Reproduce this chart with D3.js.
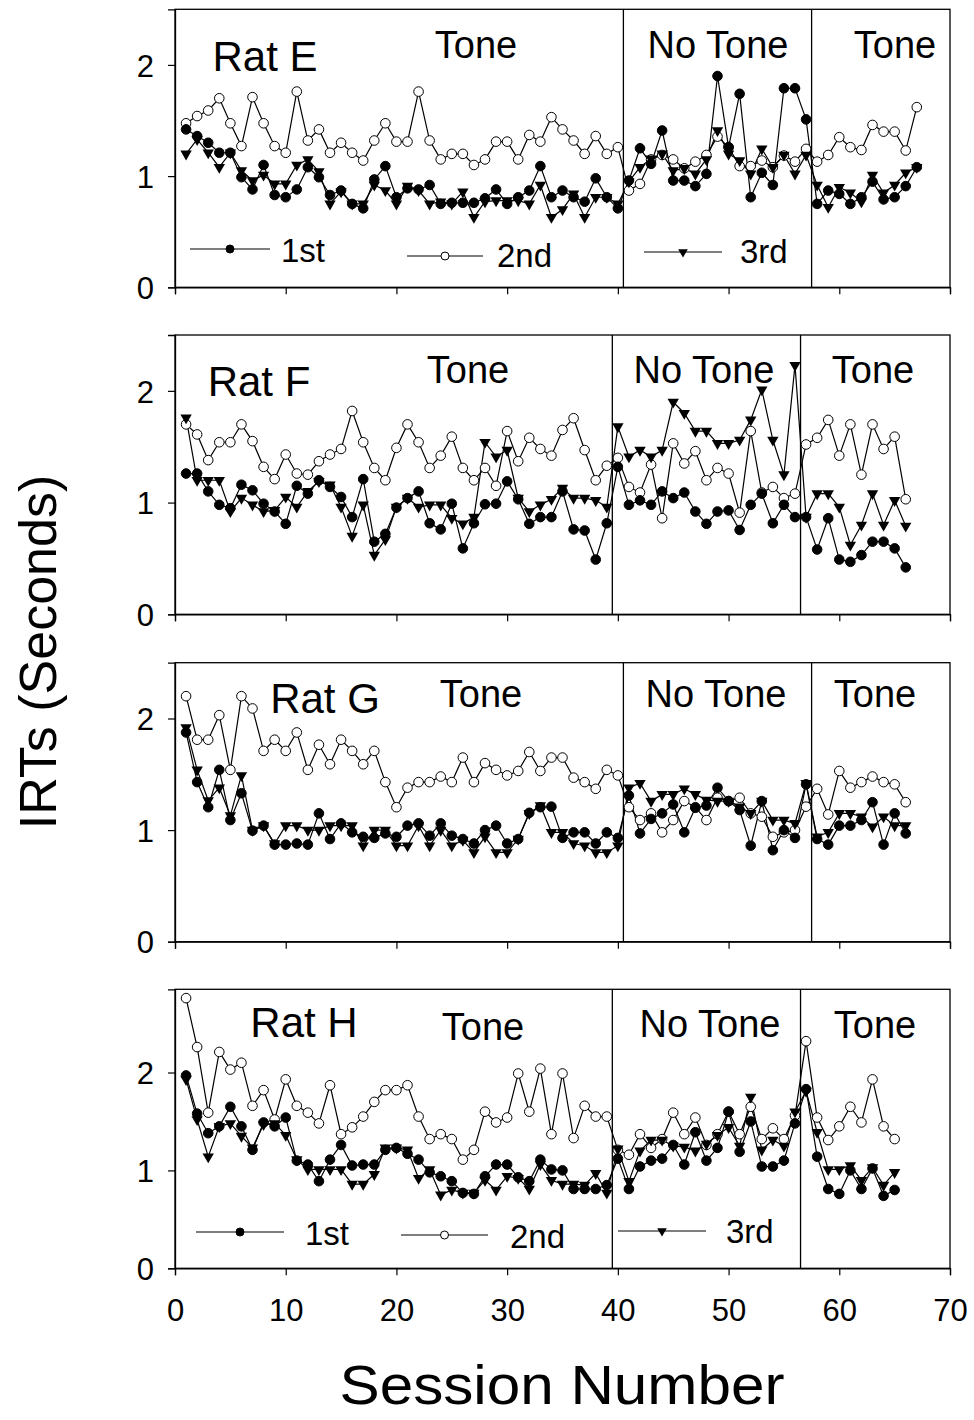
<!DOCTYPE html>
<html>
<head>
<meta charset="utf-8">
<script src="https://cdn.jsdelivr.net/npm/d3@7"></script>
<style>
  body { margin: 0; background: #fff; }
  svg { display: block; font-family: "Liberation Sans", Arial, sans-serif; }
</style>
</head>
<body>
<svg id="chart"></svg>
<script>
// IRTs per session, three positions (1st, 2nd, 3rd) for each rat
const ratE_first = [1.42,1.36,1.30,1.21,1.21,0.99,0.88,1.10,0.83,0.81, 0.88,1.08,0.99,0.83,0.87,0.75,0.71,0.97,1.09,0.81, 0.89,0.88,0.92,0.75,0.76,0.76,0.76,0.80,0.88,0.75, 0.81,0.87,1.09,0.81,0.87,0.81,0.77,0.98,0.81,0.71, 0.96,1.25,1.11,1.41,0.96,0.96,0.91,1.02,1.90,1.26, 1.74,0.81,1.03,0.92,1.79,1.79,1.51,0.75,0.87,0.84, 0.75,0.81,0.95,0.79,0.81,0.91,1.08];
const ratE_second = [1.475,1.54,1.59,1.70,1.475,1.27,1.71,1.475,1.27,1.21, 1.76,1.32,1.42,1.21,1.30,1.21,1.14,1.32,1.475,1.31, 1.31,1.76,1.32,1.15,1.20,1.20,1.10,1.15,1.31,1.31, 1.15,1.37,1.31,1.53,1.42,1.32,1.20,1.36,1.20,1.26, 0.87,0.93,1.15,1.19,1.15,1.07,1.13,1.19,1.355,1.26, 1.09,1.09,1.14,1.08,1.185,1.13,1.245,1.13,1.19,1.35, 1.26,1.235,1.46,1.40,1.40,1.23,1.62];
const ratE_third = [1.20,1.33,1.21,1.08,1.21,1.05,0.96,1.01,0.93,0.93, 1.10,1.15,1.04,0.75,0.86,0.75,0.75,0.92,0.87,0.75, 0.91,0.87,0.75,0.77,0.75,0.86,0.63,0.77,0.78,0.78, 0.78,0.75,0.92,0.63,0.70,0.84,0.63,0.81,0.81,0.75, 0.95,1.08,1.155,1.20,1.05,1.07,1.02,1.15,1.41,1.20, 1.14,1.02,1.245,1.08,1.19,1.02,1.19,0.92,0.72,0.90, 0.85,0.77,1.01,0.85,0.92,1.03,1.08];

const ratF_first = [1.26,1.26,1.10,0.98,0.95,1.16,1.11,0.99,0.92,0.81, 1.15,1.08,1.20,1.14,1.05,0.87,1.21,0.65,0.72,0.955, 1.04,1.10,0.815,0.76,0.99,0.59,0.815,0.985,0.99,1.19, 1.03,0.81,0.87,0.87,1.10,0.76,0.75,0.49,0.815,1.32, 0.98,1.02,0.98,1.10,1.04,1.09,0.92,0.81,0.92,0.93, 0.755,0.98,1.08,0.815,0.98,0.87,0.87,0.58,0.86,0.49, 0.47,0.53,0.65,0.65,0.59,0.42];
const ratF_second = [1.70,1.61,1.38,1.54,1.54,1.70,1.55,1.32,1.21,1.43, 1.26,1.25,1.37,1.43,1.48,1.82,1.54,1.31,1.20,1.49, 1.70,1.54,1.31,1.42,1.59,1.31,1.20,1.31,1.15,1.64, 1.37,1.58,1.48,1.42,1.65,1.755,1.47,1.20,1.33,1.40, 1.14,1.09,1.34,0.86,1.53,1.35,1.46,1.20,1.31,1.26, 0.91,1.64,1.09,1.14,1.04,1.08,1.52,1.58,1.74,1.42, 1.70,1.25,1.70,1.48,1.59,1.03];
const ratF_third = [1.76,1.20,1.20,1.20,0.92,1.04,0.98,0.92,0.93,1.05, 0.96,1.10,1.19,1.16,0.96,0.70,0.98,0.53,0.67,0.96, 1.04,0.96,0.98,0.98,0.86,0.81,0.87,1.54,1.41,1.47, 1.04,0.92,0.98,1.03,1.13,1.04,1.04,1.02,0.96,1.68, 1.41,1.47,1.41,1.47,1.90,1.80,1.64,1.64,1.53,1.53, 1.56,1.74,2.01,1.56,1.25,2.23,0.87,1.08,1.08,0.96, 0.62,0.80,1.08,0.80,1.02,0.79];

const ratG_first = [1.875,1.43,1.205,1.54,1.09,1.33,0.995,1.04,0.87,0.87, 0.88,0.87,1.15,0.92,1.06,0.98,0.94,0.93,0.97,0.94, 1.04,1.06,0.95,1.06,0.95,0.92,0.88,1.00,1.04,0.88, 0.92,1.155,1.205,1.21,0.93,0.98,0.98,0.88,0.98,0.93, 1.31,0.97,1.10,1.15,1.23,0.98,1.20,1.22,1.38,1.26, 1.18,0.86,1.26,0.82,1.00,0.93,1.41,0.92,0.87,1.04, 1.04,1.09,1.25,0.87,1.15,0.97];
const ratG_second = [2.20,1.81,1.81,2.03,1.54,2.20,2.09,1.71,1.81,1.71, 1.875,1.54,1.765,1.59,1.81,1.71,1.59,1.71,1.43,1.205, 1.38,1.43,1.43,1.48,1.43,1.65,1.43,1.60,1.54,1.49, 1.53,1.70,1.53,1.65,1.65,1.47,1.43,1.37,1.54,1.49, 1.205,1.09,1.15,0.98,1.09,1.26,1.205,1.09,1.29,1.26, 1.29,1.15,1.12,0.94,0.98,1.00,1.21,1.37,1.14,1.53, 1.38,1.43,1.48,1.43,1.41,1.25];
const ratG_third = [1.92,1.54,1.265,1.38,1.13,1.49,1.00,1.04,0.88,1.04, 1.04,1.00,1.00,1.04,1.04,1.04,0.86,1.00,1.00,0.86, 0.86,1.04,0.86,1.00,0.86,0.91,0.80,0.94,0.80,0.80, 0.92,1.15,1.22,0.98,0.98,0.88,0.86,0.80,0.80,0.86, 1.38,1.42,1.26,1.32,1.32,1.37,1.32,1.27,1.26,1.26, 1.21,1.15,1.26,1.09,1.09,1.06,1.42,0.94,0.98,1.15, 1.15,1.12,1.03,1.12,1.04,1.04];

const ratH_first = [1.97,1.58,1.38,1.45,1.65,1.45,1.21,1.49,1.45,1.54, 1.10,1.06,0.89,1.11,1.26,1.05,1.06,1.06,1.21,1.23, 1.17,1.11,0.98,0.94,0.89,0.77,0.76,0.94,1.06,1.06, 0.93,0.89,1.11,1.01,1.00,0.81,0.81,0.81,0.85,1.12, 0.81,1.04,1.10,1.12,1.26,1.06,1.39,1.10,1.23,1.60, 1.19,1.50,1.04,1.04,1.10,1.48,1.83,1.14,0.81,0.76, 1.00,0.81,1.02,0.74,0.80];
const ratH_second = [2.76,2.26,1.59,2.21,2.03,2.10,1.66,1.82,1.52,1.93, 1.66,1.59,1.48,1.87,1.37,1.44,1.55,1.70,1.82,1.82, 1.87,1.55,1.32,1.37,1.32,1.11,1.21,1.60,1.49,1.54, 1.99,1.60,2.04,1.37,1.99,1.33,1.66,1.55,1.55,1.21, 1.16,1.37,1.23,1.32,1.59,1.37,1.54,1.26,1.37,1.60, 1.37,1.65,1.32,1.43,1.32,1.56,2.32,1.54,1.31,1.45, 1.65,1.49,1.93,1.45,1.32];
const ratH_third = [1.93,1.52,1.14,1.45,1.48,1.35,1.23,1.47,1.48,1.36, 1.11,1.01,1.01,1.01,1.01,0.86,0.86,0.96,1.23,1.23, 1.21,0.92,1.01,0.75,0.80,0.77,0.77,0.90,0.80,0.94, 0.92,0.81,1.06,0.90,0.86,0.86,0.85,0.97,0.77,1.22, 0.89,1.20,1.31,1.31,1.25,1.24,1.20,1.27,1.36,1.44, 1.25,1.75,1.21,1.31,1.25,1.60,1.81,1.39,1.01,1.01, 1.05,0.90,1.03,0.85,0.98];

const ratNames = ["Rat E", "Rat F", "Rat G", "Rat H"];
// session after which the phase changes (Tone -> No Tone -> Tone)
const phaseBreaks = [[40.5, 57.5], [39.5, 56.5], [40.5, 57.5], [39.5, 56.5]];
const phaseLabels = ["Tone", "No Tone", "Tone"];
const seriesNames = ["1st", "2nd", "3rd"];
const xTicks = [0, 10, 20, 30, 40, 50, 60, 70];
const yTicks = [0, 1, 2];
const yMax = [2.5, 2.5, 2.5, 2.85];

const W = 974, H = 1420;
const svg = d3.select("#chart").attr("width", W).attr("height", H);

const x = d3.scaleLinear().domain([0, 70]).range([175, 950]);

// panel frames (top, bottom) in pixels
const frames = [[9.3, 287.3], [335, 614.3], [662.7, 941.7], [989.3, 1268.3]];

// text placement per panel: rat label, then the three phase labels
const labelPos = [
  {rat: [265, 71], phases: [[476, 58], [718, 58], [895, 58]]},
  {rat: [259, 396], phases: [[468, 383], [704, 383], [873, 383]]},
  {rat: [325, 713], phases: [[481, 707], [716, 707], [875, 707]]},
  {rat: [304, 1037], phases: [[483, 1040], [710, 1037], [875, 1038]]}
];

// legend rows: line x1, x2, y, text x, text baseline
const legendPos = {
  0: [[190, 270, 249, 281, 262], [407, 483, 256, 497, 267], [644, 722, 252, 740, 263]],
  3: [[196, 284, 1232, 305, 1245], [401, 488, 1235, 510, 1248], [618, 706, 1231, 726, 1243]]
};

const allData = [
  [ratE_first, ratE_second, ratE_third],
  [ratF_first, ratF_second, ratF_third],
  [ratG_first, ratG_second, ratG_third],
  [ratH_first, ratH_second, ratH_third]
];

const tri = d3.symbol().type(d3.symbolTriangle).size(56);
const triSmall = d3.symbol().type(d3.symbolTriangle).size(40);

function drawMarker(g, kind, cx, cy, small) {
  if (kind === 2) {
    g.append("path")
      .attr("d", small ? triSmall() : tri())
      .attr("transform", `translate(${cx},${cy}) rotate(180)`)
      .attr("fill", "#000");
  } else {
    g.append("circle")
      .attr("cx", cx).attr("cy", cy)
      .attr("r", small ? 4 : 4.8)
      .attr("fill", kind === 0 ? "#000" : "#fff")
      .attr("stroke", "#000")
      .attr("stroke-width", 1);
  }
}

allData.forEach((series, p) => {
  const [top, bottom] = frames[p];
  const y = d3.scaleLinear().domain([0, yMax[p]]).range([bottom, top]);
  const g = svg.append("g");

  // frame
  g.append("rect")
    .attr("x", x(0)).attr("y", top)
    .attr("width", x(70) - x(0)).attr("height", bottom - top)
    .attr("fill", "none").attr("stroke", "#000").attr("stroke-width", 1.3);

  // axes
  const xAxis = d3.axisBottom(x).tickValues(xTicks).tickSize(7).tickFormat(p === 3 ? d3.format("d") : "");
  const xg = g.append("g").attr("transform", `translate(0,${bottom})`).call(xAxis);
  const yAxis = d3.axisLeft(y).tickValues(yTicks).tickSize(7).tickFormat(d3.format("d"));
  const yg = g.append("g").attr("transform", `translate(${x(0)},0)`).call(yAxis);
  [xg, yg].forEach(a => {
    a.select(".domain").attr("stroke-width", 1.3);
    a.selectAll(".tick line").attr("stroke-width", 1.2);
    a.selectAll("text").attr("fill", "#000").style("font-size", "31px")
      .style("font-family", "'Liberation Sans', Arial, sans-serif");
  });
  yg.selectAll("text").attr("x", -21).attr("dy", "0.36em");
  xg.selectAll("text").attr("y", 31).attr("dy", "0.71em");

  // phase boundaries
  phaseBreaks[p].forEach(b => {
    g.append("line")
      .attr("x1", x(b)).attr("x2", x(b))
      .attr("y1", top).attr("y2", bottom)
      .attr("stroke", "#000").attr("stroke-width", 1.3);
  });

  // labels
  const lp = labelPos[p];
  g.append("text")
    .attr("x", lp.rat[0]).attr("y", lp.rat[1])
    .attr("text-anchor", "middle")
    .style("font-size", "42px")
    .text(ratNames[p]);
  phaseLabels.forEach((t, i) => {
    g.append("text")
      .attr("x", lp.phases[i][0]).attr("y", lp.phases[i][1])
      .attr("text-anchor", "middle")
      .style("font-size", "38px")
      .text(t);
  });

  // series: lines first, then markers (2nd, 1st, 3rd)
  const line = d3.line().x((d, i) => x(i + 1)).y(d => y(d));
  [1, 0, 2].forEach(k => {
    g.append("path")
      .datum(series[k])
      .attr("d", line)
      .attr("fill", "none")
      .attr("stroke", "#000")
      .attr("stroke-width", 1.2);
  });
  [1, 0, 2].forEach(k => {
    const mg = g.append("g");
    series[k].forEach((v, i) => drawMarker(mg, k, x(i + 1), y(v), false));
  });

  // legend
  if (legendPos[p]) {
    legendPos[p].forEach((l, k) => {
      g.append("line")
        .attr("x1", l[0]).attr("x2", l[1])
        .attr("y1", l[2]).attr("y2", l[2])
        .attr("stroke", "#000").attr("stroke-width", 1.2);
      drawMarker(g, k, (l[0] + l[1]) / 2, l[2], true);
      g.append("text")
        .attr("x", l[3]).attr("y", l[4])
        .style("font-size", "33px")
        .text(seriesNames[k]);
    });
  }
});

// axis titles
svg.append("text")
  .attr("transform", "translate(56,652) rotate(-90)")
  .attr("text-anchor", "middle")
  .style("font-size", "52px")
  .text("IRTs (Seconds)");

svg.append("text")
  .attr("x", 562).attr("y", 1404)
  .attr("text-anchor", "middle")
  .attr("textLength", 445)
  .attr("lengthAdjust", "spacingAndGlyphs")
  .style("font-size", "55px")
  .text("Session Number");
</script>
</body>
</html>
